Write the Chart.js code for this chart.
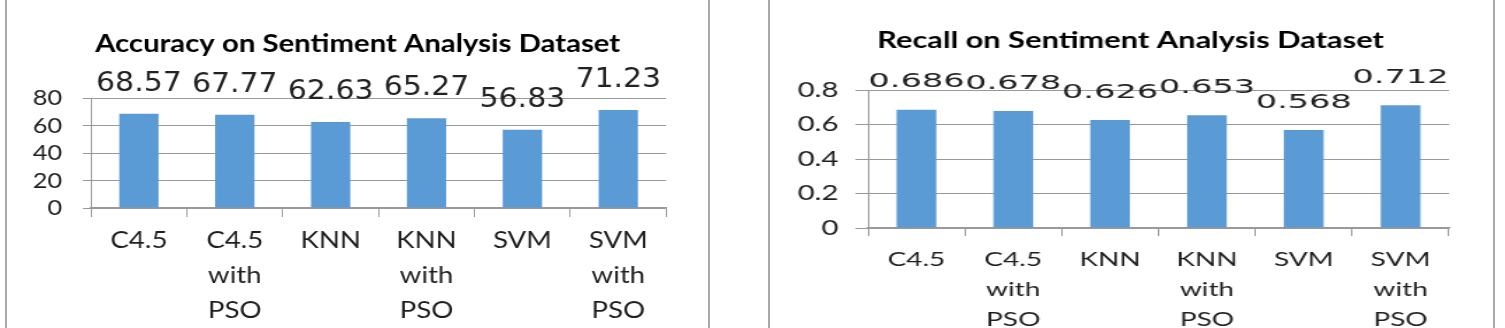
<!DOCTYPE html>
<html>
<head>
<meta charset="utf-8">
<script src="https://cdn.jsdelivr.net/npm/chart.js@4.4.1/dist/chart.umd.min.js"></script>
<style>
  html, body { margin: 0; padding: 0; background: #fff; }
  body { width: 1505px; height: 328px; position: relative; overflow: hidden; }
  .wrap { position: absolute; top: 0; height: 328px; transform-origin: 0 0; }
  .vline { position: absolute; top: 0; width: 2px; height: 328px; background: #a9a9a9; }
</style>
</head>
<body>
<div class="vline" style="left:5px"></div>
<div class="vline" style="left:708px"></div>
<div class="vline" style="left:768px"></div>
<div class="vline" style="left:1493px"></div>
<div class="wrap" id="wl" style="left:0px; width:622px; transform:scaleX(1.15)"><canvas id="accChart" width="622" height="328"></canvas></div>
<div class="wrap" id="wr" style="left:770px; width:515px; transform:scaleX(1.4)"><canvas id="recChart" width="515" height="328"></canvas></div>
<script>
// ---- data ----
const categories = [["C4.5"], ["C4.5", "with", "PSO"], ["KNN"], ["KNN", "with", "PSO"], ["SVM"], ["SVM", "with", "PSO"]];
const accuracyValues = [68.57, 67.77, 62.63, 65.27, 56.83, 71.23];
const recallValues = [0.686, 0.678, 0.626, 0.653, 0.568, 0.712];
const accuracyTicks = [0, 20, 40, 60, 80];
const recallTicks = [0, 0.2, 0.4, 0.6, 0.8];
const accuracyTitle = "Accuracy on Sentiment Analysis Dataset";
const recallTitle = "Recall on Sentiment Analysis Dataset";

const BAR = '#5b9bd5';
const GRID = '#999999';
const TEXT = '#1f1f1f';

const valueLabels = {
  id: 'valueLabels',
  afterDatasetsDraw(chart, args, opts) {
    const ctx = chart.ctx;
    const meta = chart.getDatasetMeta(0);
    const data = chart.data.datasets[0].data;
    ctx.save();
    ctx.font = opts.font;
    ctx.fillStyle = opts.color;
    ctx.textAlign = 'center';
    ctx.textBaseline = 'alphabetic';
    meta.data.forEach((bar, i) => {
      ctx.save();
      ctx.translate(bar.x, bar.y - opts.offset);
      ctx.scale(opts.sx, 1);
      ctx.fillText(Number(data[i]).toFixed(opts.decimals), 0, 0);
      ctx.restore();
    });
    ctx.restore();
  }
};

function makeChart(id, cfg) {
  const ticksArr = cfg.ticks;
  return new Chart(document.getElementById(id), {
    type: 'bar',
    data: {
      labels: categories,
      datasets: [{ data: cfg.values, backgroundColor: BAR, borderWidth: 0,
                   barPercentage: 0.41, categoryPercentage: 1.0 }]
    },
    plugins: [valueLabels],
    options: {
      responsive: false,
      animation: false,
      events: [],
      layout: { padding: 0 },
      plugins: {
        legend: { display: false },
        tooltip: { enabled: false },
        title: {
          display: true, text: cfg.title, color: '#000',
          font: { family: 'Lato', weight: 'bold', size: cfg.titleSize, lineHeight: 1.2 },
          padding: { top: cfg.titlePadTop, bottom: cfg.titlePadBottom }
        },
        valueLabels: { font: cfg.valueFont, color: '#222', offset: cfg.valueOffset, sx: cfg.valueSx, decimals: cfg.decimals }
      },
      scales: {
        x: {
          grid: { display: true, drawOnChartArea: false, drawTicks: true, tickLength: cfg.xTickLen, color: GRID, offset: true },
          border: { display: true, color: GRID, width: 1.5 },
          ticks: { color: TEXT, padding: cfg.xPad, maxRotation: 0, autoSkip: false,
                   font: { family: 'Lato', size: cfg.xFontSize, lineHeight: cfg.xLineHeight } },
          afterFit(scale) { scale.height = cfg.xHeight; }
        },
        y: {
          position: 'left',
          min: ticksArr[0], max: ticksArr[ticksArr.length - 1],
          grid: { color: GRID, drawTicks: true, tickLength: cfg.yTickLen },
          border: { display: true, color: GRID, width: 1 },
          ticks: { stepSize: ticksArr[1] - ticksArr[0], autoSkip: false, color: TEXT, padding: cfg.yPad,
                   font: { family: 'Lato', size: cfg.yFontSize } },
          afterFit(scale) { scale.width = cfg.yWidth; }
        },
        spacer: {
          type: 'linear', position: 'right', display: true,
          grid: { display: false, drawTicks: false }, border: { display: false },
          ticks: { display: false },
          afterFit(scale) { scale.width = cfg.rightSpace; }
        }
      }
    }
  });
}

makeChart('accChart', {
  values: accuracyValues, ticks: accuracyTicks, title: accuracyTitle,
  titleSize: 25.5, titlePadTop: 28, titlePadBottom: 39.4,
  yWidth: 79.1, rightSpace: 42.7, yTickLen: 7, yPad: 18, yFontSize: 22,
  xHeight: 120, xTickLen: 9, xPad: 6, xFontSize: 24, xLineHeight: 1.45,
  valueFont: '26px "DejaVu Sans"', valueOffset: 23, valueSx: 1.0, decimals: 2
});

makeChart('recChart', {
  values: recallValues, ticks: recallTicks, title: recallTitle,
  titleSize: 22, titlePadTop: 27.8, titlePadBottom: 35.8,
  yWidth: 70, rightSpace: 30, yTickLen: 9, yPad: 12, yFontSize: 21,
  xHeight: 100, xTickLen: 8, xPad: 9, xFontSize: 20, xLineHeight: 1.5,
  valueFont: '20px "DejaVu Sans"', valueOffset: 22.5, valueSx: 1.2, decimals: 3
});
</script>
</body>
</html>
